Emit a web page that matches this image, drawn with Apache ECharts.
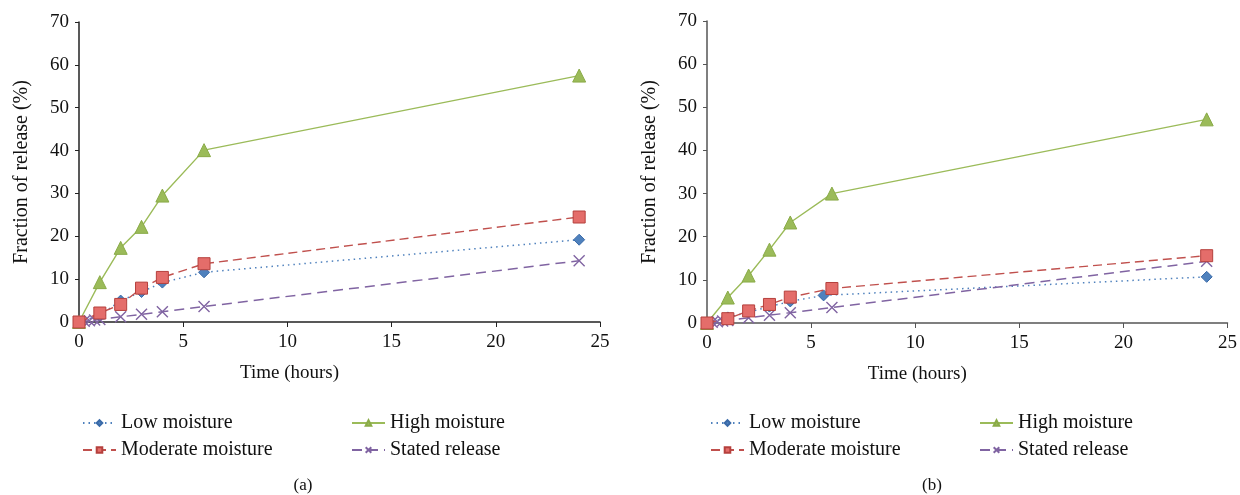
<!DOCTYPE html>
<html>
<head>
<meta charset="utf-8">
<script src="https://cdn.jsdelivr.net/npm/echarts@6/dist/echarts.min.js"></script>
<style>
  html, body { margin: 0; padding: 0; background: #fff; }
  #chart { width: 1240px; height: 495px; }
</style>
</head>
<body>
<div id="chart"></div>
<script>
// names of series
const seriesNames = ["Low moisture", "Moderate moisture", "High moisture", "Stated release"];

// time points (hours)
const timesA = [0, 1, 2, 3, 4, 6, 24];
const timesLowB = [0, 1, 2, 3, 4, 5.6, 24];
const timesB = [0, 1, 2, 3, 4, 6, 24];
const timesStated = [0, 0.25, 0.5, 0.75, 1, 2, 3, 4, 6, 24];

// panel (a)
const lowA = [0, 1.5, 5.0, 7.0, 9.2, 11.6, 19.2];
const moderateA = [0, 2.1, 4.1, 7.9, 10.4, 13.6, 24.5];
const highA = [0, 9.3, 17.3, 22.2, 29.5, 40.1, 57.5];
const statedA = [0, 0.15, 0.3, 0.45, 0.6, 1.2, 1.8, 2.4, 3.6, 14.3];

// panel (b)
const lowB = [0, 1.3, 2.5, 3.8, 5.0, 6.4, 10.7];
const moderateB = [0, 1.0, 2.8, 4.3, 6.0, 8.0, 15.6];
const highB = [0, 5.9, 11.0, 17.0, 23.3, 30.0, 47.2];
const statedB = [0, 0.15, 0.3, 0.45, 0.6, 1.2, 1.8, 2.4, 3.6, 14.3];

const FONT = "Liberation Serif";
const pair = (xs, ys) => xs.map((x, i) => [x, ys[i]]);

// styles for the 4 series
const styles = [
    { color: "#4f81bd", symbol: "diamond", size: 11, line: { type: [1.5, 4], width: 1.5 }, item: { color: "#4f81bd", borderColor: "#3a6aa8", borderWidth: 1 } },
    { color: "#c0504d", symbol: "rect", size: 12, line: { type: [9, 5], width: 1.4 }, item: { color: "#e46d6a", borderColor: "#b5403d", borderWidth: 1 } },
    { color: "#9bbb59", symbol: "triangle", size: 13, line: { type: "solid", width: 1.4 }, item: { color: "#9bbb59", borderColor: "#8aab48", borderWidth: 1 } },
    { color: "#8064a2", symbol: "path://M0,0L10,10M10,0L0,10", size: 11, line: { type: [10, 6], width: 1.5 }, item: { color: "none", borderColor: "#8064a2", borderWidth: 1.4 } }
];

function makeSeries(dataList, idx) {
    return dataList.map((d, i) => ({
        name: seriesNames[i],
        type: "line",
        xAxisIndex: idx,
        yAxisIndex: idx,
        data: d,
        symbol: styles[i].symbol,
        symbolSize: styles[i].size,
        showAllSymbol: true,
        color: styles[i].color,
        lineStyle: Object.assign({ color: styles[i].color }, styles[i].line),
        itemStyle: styles[i].item,
        z: i === 1 ? 4 : 3,
        animation: false
    }));
}

function xAxis(idx, axisColor) {
    return {
        type: "value", gridIndex: idx, min: 0, max: 25, interval: 5,
        name: "Time (hours)", nameLocation: "middle", nameGap: 42,
        nameTextStyle: { fontFamily: FONT, fontSize: 19, color: "#111", padding: [0, 100, 0, 0] },
        axisLine: { lineStyle: { color: axisColor, width: 1.5 } },
        axisTick: { length: 5, lineStyle: { color: axisColor } },
        axisLabel: { fontFamily: FONT, fontSize: 19, color: "#111", margin: 11 },
        splitLine: { show: false }
    };
}

function yAxis(idx, axisColor) {
    return {
        type: "value", gridIndex: idx, min: 0, max: 70, interval: 10,
        name: "Fraction of release (%)", nameLocation: "middle", nameGap: 47,
        nameTextStyle: { fontFamily: FONT, fontSize: 20, color: "#111" },
        axisLine: { show: true, lineStyle: { color: axisColor, width: 1.5 } },
        axisTick: { show: true, length: 4, lineStyle: { color: axisColor } },
        axisLabel: { fontFamily: FONT, fontSize: 19, color: "#111", margin: 10 },
        splitLine: { show: false }
    };
}

// legend positions: [left, top] of each item
const legendSpots = [
    [[77, 407], [77, 434], [346, 407], [346, 434]],
    [[705, 407], [705, 434], [974, 407], [974, 434]]
];
const legends = [];
legendSpots.forEach(spots => {
    spots.forEach((p, k) => {
        legends.push({
            data: [seriesNames[k]],
            left: p[0], top: p[1],
            itemWidth: 33, itemHeight: 7, itemGap: 13,
            selectedMode: false,
            textStyle: { fontFamily: FONT, fontSize: 20, color: "#111", lineHeight: 22 }
        });
    });
});

const chart = echarts.init(document.getElementById("chart"));
chart.setOption({
    backgroundColor: "#fff",
    animation: false,
    title: [
        { text: "(a)", left: 298, top: 472, textAlign: "center", textStyle: { fontFamily: FONT, fontSize: 17, fontWeight: "normal", color: "#111" } },
        { text: "(b)", left: 927, top: 472, textAlign: "center", textStyle: { fontFamily: FONT, fontSize: 17, fontWeight: "normal", color: "#111" } }
    ],
    legend: legends,
    grid: [
        { left: 79, right: 640, top: 22, bottom: 173 },
        { left: 707, right: 9, top: 21, bottom: 172 }
    ],
    xAxis: [xAxis(0, "#222"), xAxis(1, "#555")],
    yAxis: [yAxis(0, "#222"), yAxis(1, "#555")],
    series: [
        ...makeSeries([pair(timesA, lowA), pair(timesA, moderateA), pair(timesA, highA), pair(timesStated, statedA)], 0),
        ...makeSeries([pair(timesLowB, lowB), pair(timesB, moderateB), pair(timesB, highB), pair(timesStated, statedB)], 1)
    ]
});
</script>
</body>
</html>
